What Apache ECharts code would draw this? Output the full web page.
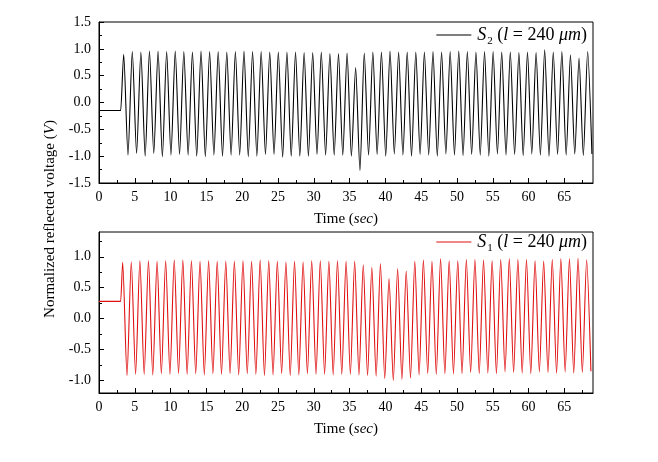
<!DOCTYPE html>
<html>
<head>
<meta charset="utf-8">
<script src="https://cdn.jsdelivr.net/npm/echarts@6/dist/echarts.min.js"></script>
<style>html,body{margin:0;padding:0;background:#fff}#c{width:658px;height:462px}</style>
</head>
<body>
<div id="c"></div>
<script>
// ---- data ----
const xTicks = [0,5,10,15,20,25,30,35,40,45,50,55,60,65];
const xMinorTicks = [2.5,7.5,12.5,17.5,22.5,27.5,32.5,37.5,42.5,47.5,52.5,57.5,62.5,67.5];
const topYTicks = [-1.5,-1.0,-0.5,0.0,0.5,1.0,1.5];
const topYMinorTicks = [-1.25,-0.75,-0.25,0.25,0.75,1.25];
const botYTicks = [-1.0,-0.5,0.0,0.5,1.0];
const botYMinorTicks = [-0.75,-0.25,0.25,0.75,1.25];

// S2 (top, black)
const s2StartTime = [0, 3.03];
const s2StartV = [-0.15, -0.15];
const s2PeakTime = [3.45,4.65,5.85,7.05,8.25,9.45,10.65,11.85,13.05,14.25,15.45,16.65,17.85,19.05,20.25,21.45,22.65,23.85,25.05,26.25,27.45,28.65,29.85,31.05,32.25,33.45,34.65,35.85,37.05,38.25,39.45,40.65,41.85,43.05,44.25,45.45,46.65,47.85,49.05,50.25,51.45,52.65,53.85,55.05,56.25,57.45,58.65,59.85,61.05,62.25,63.45,64.65,65.85,67.05,68.25];
const s2PeakV = [0.90,0.95,0.94,0.96,0.96,0.95,0.96,0.95,0.94,0.96,0.95,0.95,0.94,0.95,0.96,0.95,0.95,0.94,0.94,0.94,0.94,0.93,0.93,0.94,0.91,0.91,
  0.92,0.65,0.92,0.94,0.94,0.96,0.94,0.94,0.94,0.94,0.95,0.94,0.95,0.96,0.95,0.94,0.95,0.95,0.94,0.94,0.93,0.94,0.93,0.98,0.94,0.95,0.89,0.83,0.95];
const s2TroughTime = [4.05,5.25,6.45,7.65,8.85,10.05,11.25,12.45,13.65,14.85,16.05,17.25,18.45,19.65,20.85,22.05,23.25,24.45,25.65,26.85,28.05,29.25,30.45,31.65,32.85,34.05,35.25,36.45,37.65,38.85,40.05,41.25,42.45,43.65,44.85,46.05,47.25,48.45,49.65,50.85,52.05,53.25,54.45,55.65,56.85,58.05,59.25,60.45,61.65,62.85,64.05,65.25,66.45,67.65,68.85];
const s2TroughV = [-0.98,-0.95,-1.0,-0.95,-1.01,-0.98,-0.97,-0.98,-1.0,-1.01,-0.98,-1.0,-0.98,-0.98,-1.01,-1.0,-0.97,-0.97,-1.02,-1.0,-1.0,-1.0,-0.97,-0.98,-0.98,-0.98,
  -1.0,-1.27,-0.98,-0.97,-1.0,-0.96,-0.98,-1.0,-0.97,-0.98,-1.0,-0.96,-0.98,-0.99,-0.97,-0.98,-1.0,-0.96,-0.98,-0.97,-0.99,-0.96,-0.98,-1.0,-0.97,-0.98,-0.96,-0.99,-0.96];

// S1 (bottom, red)
const s1StartTime = [0, 3.03];
const s1StartV = [0.28, 0.28];
const s1PeakTime = [3.31,4.51,5.71,6.91,8.11,9.31,10.51,11.71,12.91,14.11,15.31,16.51,17.71,18.91,20.11,21.31,22.51,23.71,24.91,26.11,27.31,28.51,29.71,30.91,32.11,33.31,34.51,35.71,36.91,38.11,39.31,40.51,41.71,42.91,44.11,45.31,46.51,47.71,48.91,50.11,51.31,52.51,53.71,54.91,56.11,57.31,58.51,59.71,60.91,62.11,63.31,64.51,65.71,66.91,68.11];
const s1PeakV = [0.91,0.92,0.94,0.94,0.93,0.94,0.95,0.95,0.94,0.93,0.94,0.93,0.93,0.93,0.94,0.93,0.95,0.94,0.93,0.92,0.93,0.92,0.94,0.94,0.93,0.94,
  0.93,0.93,0.87,0.83,0.89,0.65,0.81,0.77,0.93,0.95,0.93,0.97,0.94,0.94,0.96,0.96,0.95,0.94,0.96,0.97,0.96,0.96,0.94,0.93,0.96,0.97,0.97,0.98,0.95];
const s1TroughTime = [3.91,5.11,6.31,7.51,8.71,9.91,11.11,12.31,13.51,14.71,15.91,17.11,18.31,19.51,20.71,21.91,23.11,24.31,25.51,26.71,27.91,29.11,30.31,31.51,32.71,33.91,35.11,36.31,37.51,38.71,39.91,41.11,42.31,43.51,44.71,45.91,47.11,48.31,49.51,50.71,51.91,53.11,54.31,55.51,56.71,57.91,59.11,60.31,61.51,62.71,63.91,65.11,66.31,67.51,68.71];
const s1TroughV = [-0.92,-0.90,-0.90,-0.91,-0.89,-0.90,-0.89,-0.90,-0.89,-0.91,-0.89,-0.90,-0.89,-0.91,-0.89,-0.90,-0.92,-0.91,-0.89,-0.92,-0.91,-0.89,-0.90,-0.90,-0.91,-0.90,
  -0.90,-0.91,-0.92,-0.93,-0.97,-1.0,-0.98,-0.96,-0.91,-0.89,-0.90,-0.89,-0.89,-0.89,-0.87,-0.89,-0.88,-0.89,-0.86,-0.87,-0.88,-0.89,-0.86,-0.87,-0.88,-0.86,-0.88,-0.87,-0.85];

// ---- build series data (interleave read points, no interpolation) ----
function build(st, sv, pt, pv, tt, tv) {
  const d = [];
  for (let i = 0; i < st.length; i++) d.push([st[i], sv[i]]);
  for (let k = 0; k < pt.length; k++) {
    d.push([pt[k], pv[k]]);
    if (k < tt.length) d.push([tt[k], tv[k]]);
  }
  return d;
}
const s2Data = build(s2StartTime, s2StartV, s2PeakTime, s2PeakV, s2TroughTime, s2TroughV);
const s1Data = build(s1StartTime, s1StartV, s1PeakTime, s1PeakV, s1TroughTime, s1TroughV);

const FONT = 'Liberation Serif';
const RED = '#e01010';
const richItal = { i: { fontStyle: 'italic', fontFamily: FONT, fontSize: 15, color: '#000' } };

function mainX(grid) {
  return {
    type: 'value', gridIndex: grid, min: 0, max: 69, position: 'bottom',
    splitLine: { show: false },
    axisLine: { show: true, onZero: false, lineStyle: { color: '#000', width: 1 } },
    axisTick: { show: true, inside: true, length: 5, customValues: xTicks, lineStyle: { color: '#000' } },
    axisLabel: { show: true, customValues: xTicks, margin: 7, fontFamily: FONT, fontSize: 14, color: '#000' },
    name: 'Time ({i|sec})', nameLocation: 'middle', nameGap: 29,
    nameTextStyle: { fontFamily: FONT, fontSize: 15, color: '#000', rich: richItal }
  };
}
function minorX(grid) {
  return {
    type: 'value', gridIndex: grid, min: 0, max: 69, position: 'bottom',
    splitLine: { show: false }, axisLine: { show: false, onZero: false },
    axisTick: { show: true, inside: true, length: 3, customValues: xMinorTicks, lineStyle: { color: '#000' } },
    axisLabel: { show: false }
  };
}
function mainY(grid, min, max, ticks) {
  return {
    type: 'value', gridIndex: grid, min: min, max: max, position: 'left',
    splitLine: { show: false },
    axisLine: { show: true, onZero: false, lineStyle: { color: '#000', width: 1 } },
    axisTick: { show: true, inside: true, length: 5, customValues: ticks, lineStyle: { color: '#000' } },
    axisLabel: { show: true, customValues: ticks, margin: 8, fontFamily: FONT, fontSize: 14, color: '#000',
      formatter: v => v.toFixed(1) }
  };
}
function minorY(grid, min, max, ticks) {
  return {
    type: 'value', gridIndex: grid, min: min, max: max, position: 'left',
    splitLine: { show: false }, axisLine: { show: false, onZero: false },
    axisTick: { show: true, inside: true, length: 3, customValues: ticks, lineStyle: { color: '#000' } },
    axisLabel: { show: false }
  };
}

const legendRich = {
  i: { fontStyle: 'italic', fontFamily: FONT, fontSize: 18, color: '#000' },
  n: { fontFamily: FONT, fontSize: 18, color: '#000' },
  sub: { fontFamily: FONT, fontSize: 11, color: '#000', padding: [12, 0, 0, 1] }
};

const chart = echarts.init(document.getElementById('c'), null, { renderer: 'canvas' });
chart.setOption({
  animation: false,
  backgroundColor: '#fff',
  grid: [
    { left: 99, top: 22, width: 494, height: 161, show: true, borderColor: '#000', borderWidth: 1, backgroundColor: 'transparent' },
    { left: 99, top: 232, width: 494, height: 161, show: true, borderColor: '#000', borderWidth: 1, backgroundColor: 'transparent' }
  ],
  xAxis: [mainX(0), minorX(0), mainX(1), minorX(1)],
  yAxis: [mainY(0, -1.5, 1.5, topYTicks), minorY(0, -1.5, 1.5, topYMinorTicks),
          mainY(1, -1.2, 1.4, botYTicks), minorY(1, -1.2, 1.4, botYMinorTicks)],
  legend: [
    { data: ['S2'], right: 66, top: 21, icon: 'rect', itemWidth: 35, itemHeight: 1, itemGap: 0,
      formatter: () => '{i|S}{sub|2}{n| (}{i|l}{n| = 240 }{i|μm}{n|)}',
      textStyle: { rich: legendRich, padding: [0, 0, 0, 1] } },
    { data: ['S1'], right: 66, top: 228, icon: 'rect', itemWidth: 35, itemHeight: 1, itemGap: 0,
      formatter: () => '{i|S}{sub|1}{n| (}{i|l}{n| = 240 }{i|μm}{n|)}',
      textStyle: { rich: legendRich, padding: [0, 0, 0, 1] } }
  ],
  graphic: [{
    type: 'text', x: 50, y: 219, rotation: Math.PI / 2,
    style: {
      text: 'Normalized reflected voltage ({i|V})',
      fontFamily: FONT, fontSize: 15, fill: '#000', align: 'center', verticalAlign: 'middle',
      rich: { i: { fontStyle: 'italic', fontFamily: FONT, fontSize: 15 } }
    }
  }],
  series: [
    { name: 'S2', type: 'line', xAxisIndex: 0, yAxisIndex: 0, data: s2Data, showSymbol: false,
      smooth: 0.25, smoothMonotone: 'x',
      color: '#000', lineStyle: { color: '#000', width: 1.1 }, clip: true },
    { name: 'S1', type: 'line', xAxisIndex: 2, yAxisIndex: 2, data: s1Data, showSymbol: false,
      smooth: 0.25, smoothMonotone: 'x',
      color: RED, lineStyle: { color: RED, width: 1.1 }, clip: true }
  ]
});
</script>
</body>
</html>
